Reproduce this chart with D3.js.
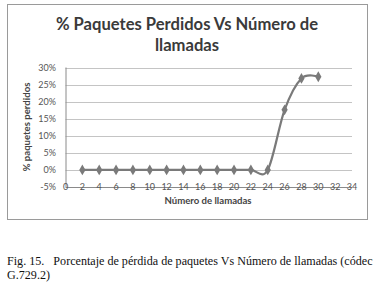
<!DOCTYPE html>
<html>
<head>
<meta charset="utf-8">
<script src="https://cdnjs.cloudflare.com/ajax/libs/d3/7.8.5/d3.min.js"></script>
<style>
  body { margin: 0; background: #fff; }
  svg text { white-space: pre; }
</style>
</head>
<body>
<div id="chart"></div>
<script>
// data
var llamadas = [2, 4, 6, 8, 10, 12, 14, 16, 18, 20, 22, 24, 26, 28, 30]
var perdidos = [0, 0, 0, 0, 0, 0, 0, 0, 0, 0, 0, 0, 17.6, 26.8, 27.3]
var xTicks = [0, 2, 4, 6, 8, 10, 12, 14, 16, 18, 20, 22, 24, 26, 28, 30, 32, 34]
var yTicks = [-5, 0, 5, 10, 15, 20, 25, 30]
var titleLines = ["% Paquetes Perdidos Vs Número de", "llamadas"]
var captionLines = ["Fig. 15.   Porcentaje de pérdida de paquetes Vs Número de llamadas (códec", "G.729.2)"]

var width = 374, height = 282

var svg = d3.select('#chart').append('svg')
    .attr('width', width)
    .attr('height', height)

svg.append('rect').attr('width', width).attr('height', height).attr('fill', '#fff')

// chart frame
svg.append('rect')
    .attr('x', 7.5).attr('y', 4.5)
    .attr('width', 360).attr('height', 215)
    .attr('fill', '#fff')
    .attr('stroke', '#9a9a9a')
    .attr('stroke-width', 1)

var x = d3.scaleLinear().domain([0, 34]).range([65.5, 352])
var y = d3.scaleLinear().domain([-5, 30]).range([187, 67.5])

// title
svg.selectAll('.title')
    .data(titleLines)
    .enter()
    .append('text')
    .attr('x', 187)
    .attr('y', function(d, i) { return 30 + i * 21 })
    .attr('text-anchor', 'middle')
    .attr('font-family', 'Lato, sans-serif')
    .attr('font-weight', 'bold')
    .attr('font-size', 16.6)
    .attr('fill', '#3a3a3a')
    .text(function(d) { return d })

// gridlines
svg.selectAll('.grid')
    .data(yTicks.filter(function(d) { return d > -5 }))
    .enter()
    .append('line')
    .attr('x1', x(0)).attr('x2', x(34))
    .attr('y1', function(d) { return Math.round(y(d)) + 0.5 })
    .attr('y2', function(d) { return Math.round(y(d)) + 0.5 })
    .attr('stroke', '#c4c4c4')
    .attr('stroke-width', 1)

// axes lines
svg.append('line')
    .attr('x1', x(0) + 0.5).attr('x2', x(0) + 0.5)
    .attr('y1', y(30)).attr('y2', y(-5))
    .attr('stroke', '#8a8a8a')
svg.append('line')
    .attr('x1', x(0)).attr('x2', x(34))
    .attr('y1', Math.round(y(-5)) + 0.5).attr('y2', Math.round(y(-5)) + 0.5)
    .attr('stroke', '#8a8a8a')

// y tick labels
svg.selectAll('.ylab')
    .data(yTicks)
    .enter()
    .append('text')
    .attr('x', 56)
    .attr('y', function(d) { return y(d) })
    .attr('dy', '0.35em')
    .attr('text-anchor', 'end')
    .attr('font-family', 'Lato, sans-serif')
    .attr('font-size', 9)
    .attr('fill', '#555')
    .text(function(d) { return d + '%' })

// x tick labels
svg.selectAll('.xlab')
    .data(xTicks)
    .enter()
    .append('text')
    .attr('x', function(d) { return x(d) })
    .attr('y', y(-5))
    .attr('dy', '0.35em')
    .attr('text-anchor', 'middle')
    .attr('font-family', 'Lato, sans-serif')
    .attr('font-size', 9)
    .attr('fill', '#555')
    .text(function(d) { return d })

// axis titles
svg.append('text')
    .attr('x', 208).attr('y', 201)
    .attr('dy', '0.35em')
    .attr('text-anchor', 'middle')
    .attr('font-family', 'Lato, sans-serif')
    .attr('font-weight', 'bold')
    .attr('font-size', 9.6)
    .attr('fill', '#444')
    .text('Número de llamadas')

svg.append('text')
    .attr('transform', 'translate(27,127) rotate(-90)')
    .attr('dy', '0.35em')
    .attr('text-anchor', 'middle')
    .attr('font-family', 'Lato, sans-serif')
    .attr('font-weight', 'bold')
    .attr('font-size', 9.6)
    .attr('fill', '#444')
    .text('% paquetes perdidos')

// smoothed series line
var points = llamadas.map(function(d, i) { return [d, perdidos[i]] })
var line = d3.line()
    .x(function(d) { return x(d[0]) })
    .y(function(d) { return y(d[1]) })
    .curve(d3.curveCardinal.tension(0))

svg.append('path')
    .datum(points)
    .attr('d', line)
    .attr('fill', 'none')
    .attr('stroke', '#7a7a7a')
    .attr('stroke-width', 2.2)

svg.selectAll('.mark')
    .data(points)
    .enter()
    .append('path')
    .attr('d', d3.symbol().type(d3.symbolDiamond).size(34))
    .attr('transform', function(d) { return 'translate(' + x(d[0]) + ',' + y(d[1]) + ')' })
    .attr('fill', '#7a7a7a')

// caption
svg.selectAll('.caption')
    .data(captionLines)
    .enter()
    .append('text')
    .attr('x', 7)
    .attr('y', function(d, i) { return 264.5 + i * 14 })
    .attr('font-family', '"Liberation Serif", serif')
    .attr('font-size', 12.1)
    .attr('fill', '#111')
    .text(function(d) { return d })
</script>
</body>
</html>
